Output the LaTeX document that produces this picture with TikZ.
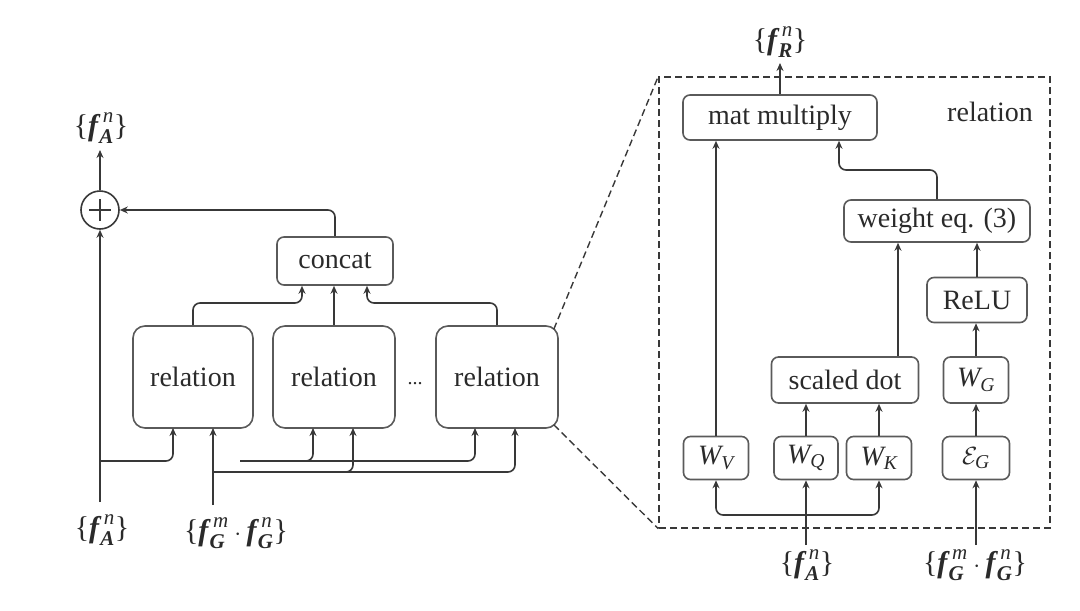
\documentclass[tikz,border=0pt]{standalone}
\usepackage{amsmath}
\usepackage{fontspec}
\setmainfont{Liberation Serif}
\usetikzlibrary{arrows.meta}
\definecolor{lngray}{HTML}{383838}
\definecolor{boxgray}{HTML}{5A5A5A}
\definecolor{txt}{HTML}{2A2A2A}
\newcommand{\ti}[1]{\text{\itshape #1}}
\newcommand{\tb}[1]{\text{\bfseries\itshape #1}}
\newcommand{\lb}{\text{\{}}
\newcommand{\rb}{\text{\}}}
\newcommand{\ff}[2]{\tb{f}^{\mkern4mu\ti{#1}}_{\mkern1mu\tb{#2}}}
\begin{document}
\begin{tikzpicture}[x=1pt,y=-1pt,
  font=\fontsize{28}{32}\selectfont,
  box/.style={draw=boxgray,line width=1.6pt,rounded corners=7pt,inner sep=0pt,text=txt},
  lbl/.style={inner sep=0pt,text=txt,font=\fontsize{30}{34}\selectfont},
  ln/.style={draw=lngray,line width=1.6pt,-{Stealth[length=8pt,width=7pt]}},
  lnb/.style={draw=lngray,line width=1.6pt,{Stealth[length=8pt,width=7pt]}-{Stealth[length=8pt,width=7pt]}},
  zoomln/.style={draw=lngray,line width=1.4pt,dash pattern=on 7pt off 4pt},
]
\useasboundingbox (0,0) rectangle (1080,611);

% ---------- left part ----------
\node[draw=lngray,line width=1.6pt,circle,minimum size=38pt,inner sep=0pt] (plus) at (100,210) {};
\draw[lngray,line width=1.4pt] (plus.center) ++(-11,0) -- ++(22,0);
\draw[lngray,line width=1.4pt] (plus.center) ++(0,-11) -- ++(0,22);
\node[lbl] (fAout) at (101,128) {$\lb\ff{n}{A}\rb$};
\node[lbl] (fAin) at (102,530) {$\lb\ff{n}{A}\rb$};
\node[lbl] (fGin) at (236,533) {$\lb\ff{m}{G}\cdot\ff{n}{G}\rb$};

\node[box,minimum width=116pt,minimum height=48pt] (concat) at (335,261) {concat};
\node[box,minimum width=120pt,minimum height=102pt,rounded corners=12pt] (rel1) at (193,377) {relation};
\node[box,minimum width=122pt,minimum height=102pt,rounded corners=12pt] (rel2) at (334,377) {relation};
\node[box,minimum width=122pt,minimum height=102pt,rounded corners=12pt] (rel3) at (497,377) {relation};
\node[inner sep=0pt,text=txt,font=\fontsize{20}{22}\selectfont] (dots) at (415,384) {...};

\coordinate (fAbot) at (100,502);
\coordinate (fGbot) at (213,505);
\draw[ln] (fAbot) -- (plus.south);
\draw[ln] (plus.north) -- (100,150) coordinate (fAtip);
\draw[ln,rounded corners=7pt] (concat.north) |- (plus.east);

\coordinate (a0) at (100,461);
\coordinate (a1) at (173,428);
\coordinate (a2s) at (240,461);
\coordinate (a2) at (313,428);
\coordinate (a2j) at (306,461);
\coordinate (a3) at (475,428);
\draw[ln,rounded corners=7pt] (a0) -| (a1);
\draw[ln,rounded corners=7pt] (a2s) -| (a2);
\draw[ln,rounded corners=7pt] (a2j) -| (a3);

\coordinate (g0) at (213,472);
\coordinate (g1) at (213,428);
\coordinate (g2) at (353,428);
\coordinate (g2j) at (346,472);
\coordinate (g3) at (515,428);
\draw[ln] (fGbot) -- (g1);
\draw[ln,rounded corners=7pt] (g0) -| (g2);
\draw[ln,rounded corners=7pt] (g2j) -| (g3);

\coordinate (c1) at (302,303);
\coordinate (c3) at (367,303);
\draw[ln,rounded corners=7pt] (rel1.north) |- (c1) -- (c1 |- concat.south);
\draw[ln] (rel2.north) -- (rel2.north |- concat.south);
\draw[ln,rounded corners=7pt] (rel3.north) |- (c3) -- (c3 |- concat.south);

% ---------- right part ----------
\node[zoomln,minimum width=391pt,minimum height=451pt,inner sep=0pt] (dbox) at (854.5,302.5) {};
\draw[zoomln] ([shift={(-5,4)}]rel3.north east) -- (dbox.north west);
\draw[zoomln] ([shift={(-5,-4)}]rel3.south east) -- (dbox.south west);
\node[inner sep=0pt,text=txt] (rellbl) at (990,112) {relation};

\node[lbl] (fR) at (780,42) {$\lb\ff{n}{R}\rb$};
\node[box,minimum width=194pt,minimum height=45pt] (mat) at (780,117.5) {mat multiply};
\node[box,minimum width=186pt,minimum height=42pt] (weight) at (937,221) {weight eq. (3)};
\node[box,minimum width=100pt,minimum height=45pt] (relu) at (977,300) {ReLU};
\node[box,minimum width=65pt,minimum height=46pt] (WG) at (976,380) {$\ti{W}_{\ti{G}}$};
\node[box,minimum width=67pt,minimum height=43pt] (EG) at (976,458) {$\mathcal{E}_{\ti{G}}$};
\node[box,minimum width=147pt,minimum height=46pt] (scaled) at (845,380) {scaled dot};
\node[box,minimum width=65pt,minimum height=43pt] (WV) at (716,458) {$\ti{W}_{\ti{V}}$};
\node[box,minimum width=64pt,minimum height=43pt] (WQ) at (806,458) {$\ti{W}_{\ti{Q}}$};
\node[box,minimum width=65pt,minimum height=43pt] (WK) at (879,458) {$\ti{W}_{\ti{K}}$};
\node[lbl] (fA2) at (807,565) {$\lb\ff{n}{A}\rb$};
\node[lbl] (fG2) at (975,565) {$\lb\ff{m}{G}\cdot\ff{n}{G}\rb$};

\draw[ln] (mat.north) -- (780,63) coordinate (fRtip);
\draw[ln] (WV.north) -- (WV.north |- mat.south);
\coordinate (m2) at (839,170);
\draw[ln,rounded corners=7pt] (weight.north) |- (m2) -- (m2 |- mat.south);
\draw[ln] (WQ.north) -- (WQ.north |- scaled.south);
\draw[ln] (WK.north) -- (WK.north |- scaled.south);
\coordinate (sdx) at (898,380);
\draw[ln] (sdx |- scaled.north) -- (sdx |- weight.south);
\draw[ln] (relu.north) -- (relu.north |- weight.south);
\draw[ln] (WG.north) -- (WG.north |- relu.south);
\draw[ln] (EG.north) -- (WG.south);
\coordinate (qbot) at (806,545);
\coordinate (gbot) at (976,545);
\coordinate (br) at (806,515);
\draw[ln] (qbot) -- (WQ.south);
\draw[lnb,rounded corners=7pt] (WV.south) |- (br) -| (WK.south);
\draw[ln] (gbot) -- (EG.south);
\end{tikzpicture}
\end{document}
